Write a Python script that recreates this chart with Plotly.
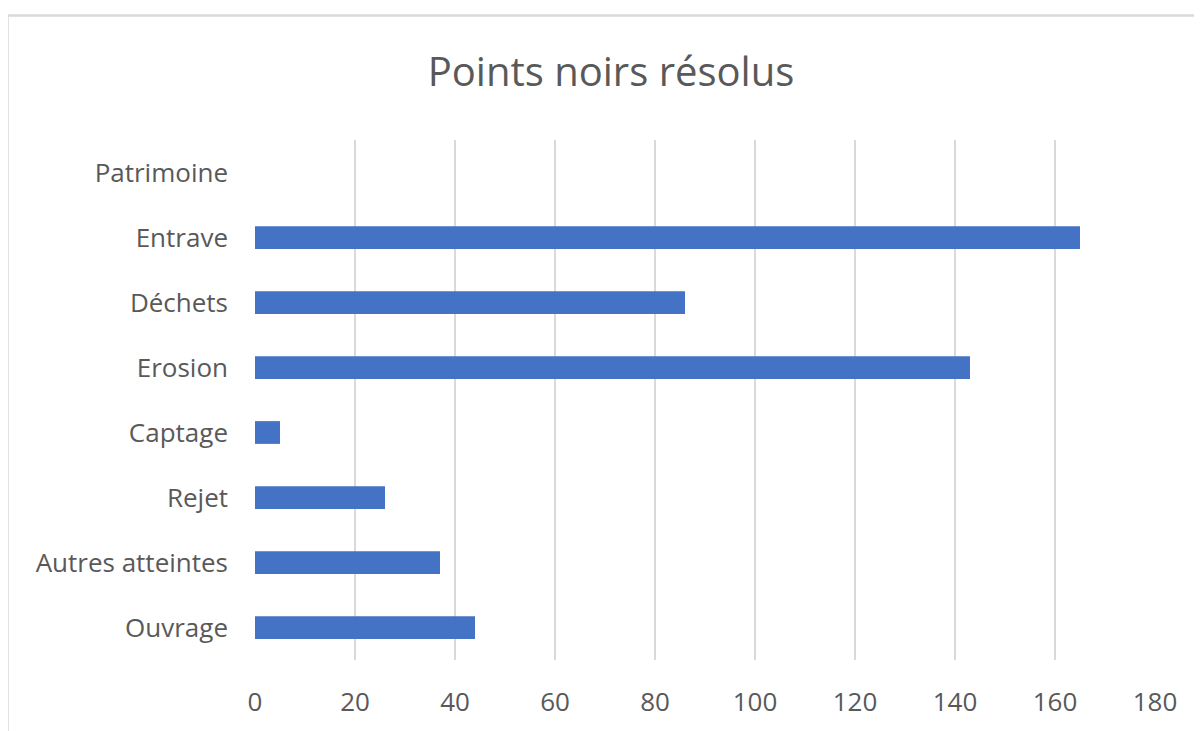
import plotly.graph_objects as go

categories = ["Ouvrage", "Autres atteintes", "Rejet", "Captage", "Erosion", "Déchets", "Entrave", "Patrimoine"]
values = [44, 37, 26, 5, 143, 86, 165, 0]
tick_vals = [0, 20, 40, 60, 80, 100, 120, 140, 160, 180]

# page body has an 8px margin, so the figure starts at (8, 8)
OFF = 8
W, H = 1202 - OFF, 731 - OFF
L, T = 255 - OFF, 140 - OFF
R, B = W - (1155 - OFF), H - (662 - OFF)

fig = go.Figure(go.Bar(
    x=values, y=categories, orientation="h",
    marker=dict(color="#4472C4", line=dict(width=0)),
    hoverinfo="x+y",
))

pw = W - L - R
ph = H - T - B
fig.add_shape(type="rect", xref="paper", yref="paper",
              x0=(7.5 - OFF - L) / pw, x1=(W + 20 - L) / pw,
              y0=(H - B - (H + 20)) / ph, y1=(H - B - (15 - OFF)) / ph,
              line=dict(color="#d9d9d9", width=2.5), layer="below")

font = "Open Sans, Segoe UI, sans-serif"
fig.update_layout(
    width=W, height=H,
    margin=dict(l=L, r=R, t=T, b=B),
    paper_bgcolor="white", plot_bgcolor="white",
    bargap=0.65,
    showlegend=False,
    title=dict(text="Points noirs résolus", x=(611 - OFF) / W, xanchor="center", xref="container",
               y=1 - (72 - OFF) / H, yanchor="middle", yref="container",
               font=dict(family=font, size=40, color="#595959")),
    xaxis=dict(range=[0, 180], tickvals=tick_vals, showgrid=True,
               gridcolor="#d9d9d9", gridwidth=1.5, zeroline=False,
               showline=False, ticks="", ticklabelstandoff=24,
               tickfont=dict(family=font, size=26, color="#595959")),
    yaxis=dict(categoryorder="array", categoryarray=categories,
               showgrid=False, zeroline=False, showline=False, ticks="",
               ticklabelstandoff=26,
               tickfont=dict(family=font, size=26, color="#595959")),
)

fig.write_html("out.html")
